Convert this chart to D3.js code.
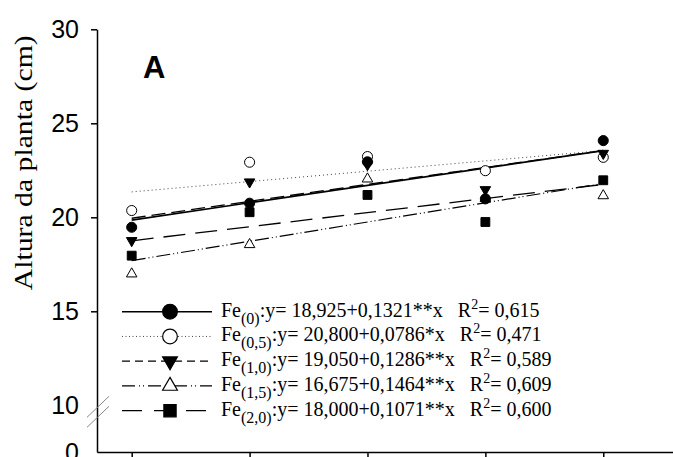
<!DOCTYPE html>
<html>
<head>
<meta charset="utf-8">
<script src="https://cdn.jsdelivr.net/npm/d3@7"></script>
<style>
    body { margin: 0; background: #fff; }
    svg { display: block; }
    .serif { font-family: "Liberation Serif", "Times New Roman", serif; }
    .sans { font-family: "Liberation Sans", Arial, sans-serif; }
</style>
</head>
<body>
<div id="fe-chart"></div>
<script>

// days after transplant (x) and plant height (cm) per Fe dose
var gDays = [7, 14, 21, 28, 35];
var gDoses = ['(0)', '(0,5)', '(1,0)', '(1,5)', '(2,0)'];

var gFe00 = [19.47, 20.75, 22.95, 20.98, 24.08];
var gFe05 = [20.36, 22.93, 23.23, 22.48, 23.19];
var gFe10 = [18.76, 21.88, 22.80, 21.47, 23.40];
var gFe15 = [16.99, 18.55, 22.04, 21.00, 21.15];
var gFe20 = [17.96, 20.27, 21.19, 19.75, 21.97];

// fitted regressions y = a + b*x
var gIntercepts = [18.925, 20.800, 19.050, 16.675, 18.000];
var gSlopes = [0.1321, 0.0786, 0.1286, 0.1464, 0.1071];
var gSignif = ['**', '*', '**', '**', '**'];
var gR2 = ['0,615', '0,471', '0,589', '0,609', '0,600'];

var gYTicks = [0, 10, 15, 20, 25, 30];

var gSettings = {
    width : 673,
    height : 457
};

//---------------------------------------------------------------
function commaNum(pValue, pDigits){
    return d3.format('.' + pDigits + 'f')(pValue).replace('.', ',');
}

//---------------------------------------------------------------
function drawChart(){
    var svg = d3.select('#fe-chart').append('svg')
        .attr('width', gSettings.width)
        .attr('height', gSettings.height);

    var xScale = d3.scaleLinear().domain([4.94, 39.2]).range([97, 674]);
    // broken axis: 0..10 squeezed at the bottom
    var yScale = d3.scaleLinear().domain([0, 10, 30]).range([452, 405.3, 29.3]);

    var lSeries = [
        { values : gFe00, symbol : d3.symbolCircle, fill : '#000', rotate : 0, dash : null, width : 1.6, color : '#000', legDash : null, size : 80, legSize : 170 },
        { values : gFe05, symbol : d3.symbolCircle, fill : '#fff', rotate : 0, dash : '1,3', width : 1, color : '#444', legDash : '1,2.5', size : 80, legSize : 170 },
        { values : gFe10, symbol : d3.symbolTriangle, fill : '#000', rotate : 180, dash : '14,6', width : 1.3, color : '#000', legDash : '8,5', size : 48, legSize : 95 },
        { values : gFe15, symbol : d3.symbolTriangle, fill : '#fff', rotate : 0, dash : '14,3,1,3,1,3', width : 1.2, color : '#000', legDash : '13,4,1,3,1,4', size : 48, legSize : 95 },
        { values : gFe20, symbol : d3.symbolSquare, fill : '#000', rotate : 0, dash : '22,10', width : 1.3, color : '#000', legDash : '20,12', size : 78, legSize : 150 }
    ];

    //axes
    var xAxis = d3.axisBottom(xScale).tickValues(gDays).tickSize(6).tickSizeOuter(0).tickFormat('');
    var gx = svg.append('g').attr('transform', 'translate(0,' + yScale(0) + ')').call(xAxis);
    gx.select('.domain').attr('stroke-width', 1.5);
    gx.selectAll('.tick line').attr('stroke-width', 1.5);

    var yAxis = d3.axisLeft(yScale).tickValues(gYTicks).tickSize(6).tickPadding(12).tickSizeOuter(0);
    var gy = svg.append('g').attr('class', 'sans').attr('transform', 'translate(' + xScale(4.94) + ',0)').call(yAxis);
    gy.select('.domain').attr('stroke-width', 1.5);
    gy.selectAll('.tick line').attr('stroke-width', 1.5)
        .attr('display', function(d){ return d <= 10 ? 'none' : null; });
    gy.selectAll('.tick text').attr('font-size', 25).attr('fill', '#000');

    //axis break marks
    var bx = xScale(4.94), by = yScale(10);
    [0, 10].forEach(function(off){
        svg.append('line')
            .attr('x1', bx - 10).attr('y1', by + 12 + off)
            .attr('x2', bx + 12).attr('y2', by - 9 + off)
            .attr('stroke', '#888').attr('stroke-width', 1);
    });

    svg.append('text').attr('class', 'serif')
        .attr('transform', 'translate(32,' + yScale(22.9) + ') rotate(-90)')
        .attr('text-anchor', 'middle')
        .attr('font-size', 26)
        .attr('textLength', 255).attr('lengthAdjust', 'spacingAndGlyphs')
        .text('Altura da planta (cm)');

    svg.append('text').attr('class', 'sans')
        .attr('x', 143).attr('y', 78)
        .attr('font-size', 31).attr('font-weight', 'bold')
        .text('A');

    //regression lines
    lSeries.forEach(function(s, i){
        var x0 = gDays[0], x1 = gDays[gDays.length - 1];
        svg.append('line')
            .attr('x1', xScale(x0)).attr('y1', yScale(gIntercepts[i] + gSlopes[i] * x0))
            .attr('x2', xScale(x1)).attr('y2', yScale(gIntercepts[i] + gSlopes[i] * x1))
            .attr('stroke', s.color).attr('stroke-width', s.width)
            .attr('stroke-dasharray', s.dash);
    });

    //points - drawn in this order so the overlaps look like the original
    [3, 1, 0, 2, 4].forEach(function(i){
        var s = lSeries[i];
        svg.append('g').selectAll('path')
            .data(s.values)
            .enter().append('path')
            .attr('d', d3.symbol().type(s.symbol).size(s.size))
            .attr('transform', function(d, j){
                return 'translate(' + xScale(gDays[j]) + ',' + yScale(d) + ') rotate(' + s.rotate + ')';
            })
            .attr('fill', s.fill).attr('stroke', '#000').attr('stroke-width', 1);
    });

    //legend
    var lLegY = 311.7, lStep = 24.75;
    lSeries.forEach(function(s, i){
        var ly = lLegY + i * lStep;
        svg.append('line')
            .attr('x1', 122).attr('x2', 212).attr('y1', ly).attr('y2', ly)
            .attr('stroke', s.color).attr('stroke-width', s.width)
            .attr('stroke-dasharray', s.legDash);
        svg.append('path')
            .attr('d', d3.symbol().type(s.symbol).size(s.legSize))
            .attr('transform', 'translate(170,' + ly + ') rotate(' + s.rotate + ')')
            .attr('fill', s.fill).attr('stroke', '#000').attr('stroke-width', 1.2);

        var t = svg.append('text').attr('class', 'serif')
            .attr('x', 221).attr('y', ly + 5)
            .attr('font-size', 20).attr('fill', '#000')
            .style('white-space', 'pre');
        t.append('tspan').text('Fe');
        t.append('tspan').attr('font-size', 16).attr('dy', 7).text(gDoses[i]);
        t.append('tspan').attr('dy', -7).text(':y= ' + commaNum(gIntercepts[i], 3) + '+' + commaNum(gSlopes[i], 4) + gSignif[i] + 'x   R');
        t.append('tspan').attr('font-size', 14).attr('dy', -8).text('2');
        t.append('tspan').attr('dy', 8).text('= ' + gR2[i]);
    });
}

drawChart();
</script>
</body>
</html>
